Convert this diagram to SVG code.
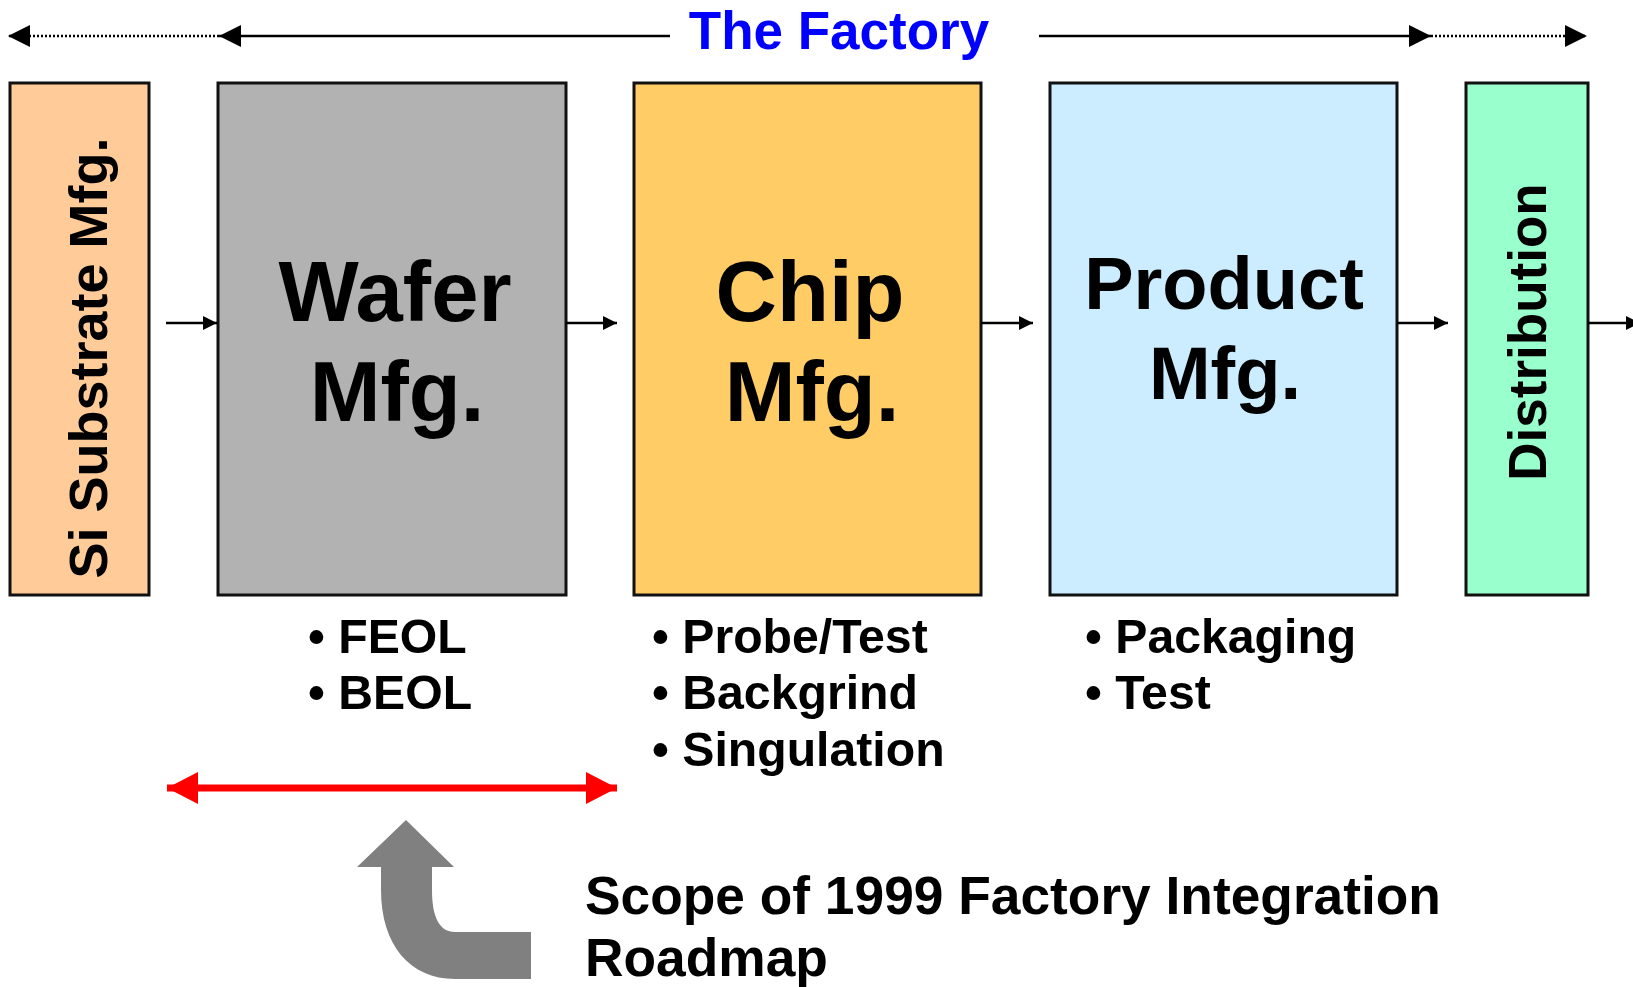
<svg xmlns="http://www.w3.org/2000/svg" width="1633" height="987" viewBox="0 0 1633 987">
<style>
.box{stroke:#111;stroke-width:3}
.big{font-family:"Liberation Sans",Arial,sans-serif;font-weight:bold;fill:#000;text-anchor:middle}
.txt{font-family:"Liberation Sans",Arial,sans-serif;font-weight:bold;fill:#000}
.bul{font-family:"Liberation Sans",Arial,sans-serif;font-weight:bold;fill:#000;font-size:48.2px}
.blk{stroke:#000;stroke-width:2.5;fill:none}
.dot{stroke:#000;stroke-width:2.5;stroke-dasharray:2 2;fill:none}
</style>
<defs>
<marker id="bigHead" markerUnits="userSpaceOnUse" markerWidth="22" markerHeight="22" refX="22" refY="11" orient="auto" viewBox="0 0 22 22">
<path d="M0,0 L22,11 L0,22 Z" fill="#000"/>
</marker>
<marker id="smallHead" markerUnits="userSpaceOnUse" markerWidth="14" markerHeight="14" refX="14" refY="7" orient="auto" viewBox="0 0 14 14">
<path d="M0,0 L14,7 L0,14 Z" fill="#000"/>
</marker>
<marker id="redHead" markerUnits="userSpaceOnUse" markerWidth="31" markerHeight="32" refX="31" refY="16" orient="auto-start-reverse" viewBox="0 0 31 32">
<path d="M0,0 L31,16 L0,32 Z" fill="#FF0000"/>
</marker>
</defs>
<rect width="1633" height="987" fill="#fff"/>

<g id="title">
<text x="839" y="49" class="txt" font-size="53" style="fill:#0000FF" text-anchor="middle">The Factory</text>
</g>

<g id="si-substrate">
<rect class="box" x="10" y="83" width="139" height="512" fill="#FFCC99"/>
<text class="big" font-size="54" transform="translate(107,358) rotate(-90)">Si Substrate Mfg.</text>
</g>

<g id="wafer">
<rect class="box" x="218" y="83" width="348" height="512" fill="#B2B2B2"/>
<text class="big" font-size="85" x="395" y="321">Wafer</text>
<text class="big" font-size="85" x="397" y="421">Mfg.</text>
<text class="bul" x="308" y="653">• FEOL</text>
<text class="bul" x="308" y="709">• BEOL</text>
</g>

<g id="chip">
<rect class="box" x="634" y="83" width="347" height="512" fill="#FFCC66"/>
<text class="big" font-size="85" x="810" y="321">Chip</text>
<text class="big" font-size="85" x="812" y="421">Mfg.</text>
<text class="bul" x="652" y="653">• Probe/Test</text>
<text class="bul" x="652" y="709">• Backgrind</text>
<text class="bul" x="652" y="766">• Singulation</text>
</g>

<g id="product">
<rect class="box" x="1050" y="83" width="347" height="512" fill="#CCECFF"/>
<text class="big" font-size="74" x="1224" y="309">Product</text>
<text class="big" font-size="74" x="1225" y="399">Mfg.</text>
<text class="bul" x="1085" y="653">• Packaging</text>
<text class="bul" x="1085" y="709">• Test</text>
</g>

<g id="distribution">
<rect class="box" x="1466" y="83" width="122" height="512" fill="#99FFCC"/>
<text class="big" font-size="53" transform="translate(1546,332) rotate(-90)">Distribution</text>
</g>

<g id="connectors">
<line class="blk" x1="670" y1="36" x2="219" y2="36" marker-end="url(#bigHead)"/>
<line class="dot" x1="219" y1="36" x2="8" y2="36" marker-end="url(#bigHead)"/>
<line class="blk" x1="1039" y1="36" x2="1431" y2="36" marker-end="url(#bigHead)"/>
<line class="dot" x1="1431" y1="36" x2="1587" y2="36" marker-end="url(#bigHead)"/>

<line class="blk" x1="166" y1="323" x2="217" y2="323" marker-end="url(#smallHead)"/>
<line class="blk" x1="566" y1="323" x2="617" y2="323" marker-end="url(#smallHead)"/>
<line class="blk" x1="981" y1="323" x2="1033" y2="323" marker-end="url(#smallHead)"/>
<line class="blk" x1="1397" y1="323" x2="1448" y2="323" marker-end="url(#smallHead)"/>
<line class="blk" x1="1588" y1="323" x2="1640" y2="323" marker-end="url(#smallHead)"/>

<line x1="167" y1="788" x2="617" y2="788" stroke="#FF0000" stroke-width="7" marker-start="url(#redHead)" marker-end="url(#redHead)"/>
</g>

<g id="scope">
<path d="M406,820 L454,867 L432,867 L432,890 C432,918 440,932 455,932 L531,932 L531,979 L455,979 C410,979 381,945 381,890 L381,867 L357,867 Z" fill="#808080"/>
<text class="txt" font-size="53.3" x="585" y="914">Scope of 1999 Factory Integration</text>
<text class="txt" font-size="53.3" x="585" y="976">Roadmap</text>
</g>
</svg>
